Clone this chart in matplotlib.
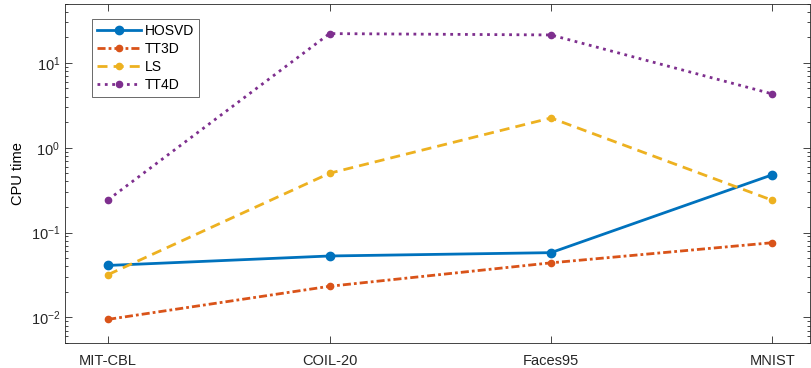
import numpy as np
import matplotlib.pyplot as plt
from matplotlib.ticker import LogLocator, NullFormatter

plt.rcParams["font.family"] = ["Liberation Sans", "DejaVu Sans"]
plt.rcParams["mathtext.fontset"] = "custom"
plt.rcParams["mathtext.rm"] = "Liberation Sans"

datasets = ["MIT-CBL", "COIL-20", "Faces95", "MNIST"]
hosvd = [0.041, 0.053, 0.058, 0.48]
tt3d = [0.0095, 0.0233, 0.044, 0.076]
ls = [0.032, 0.50, 2.24, 0.24]
tt4d = [0.244, 22.1, 21.3, 4.3]

x = np.arange(1, len(datasets) + 1)

fig = plt.figure(figsize=(8.11, 3.68), dpi=100)
ax = fig.add_axes([65 / 811, 1 - 343 / 368, 745 / 811, 339.5 / 368])

ax.plot(x, hosvd, "-", color="#0072BD", lw=2.0, marker="o", ms=6, label="HOSVD")
ax.plot(x, tt3d, color="#D95319", lw=2.0, marker="o", ms=4.5, label="TT3D",
        linestyle=(0, (2.9, 1.1, 1.0, 1.1)))
ax.plot(x, ls, color="#EDB120", lw=2.0, marker="o", ms=4.5, label="LS",
        linestyle=(0, (3.6, 2.2)))
ax.plot(x, tt4d, ":", color="#7E2F8E", lw=2.0, marker="o", ms=4.5, label="TT4D")

ax.set_yscale("log")
ax.set_ylim(0.005, 50)
ax.set_xlim(0.805, 4.17)
ax.set_xticks(x)
ax.set_xticklabels(datasets)
ax.yaxis.set_major_locator(LogLocator(base=10, numticks=10))
ax.yaxis.set_minor_locator(LogLocator(base=10, subs=np.arange(2, 10), numticks=20))
ax.yaxis.set_minor_formatter(NullFormatter())
ax.set_ylabel("CPU time", fontsize=10.5)

ax.tick_params(which="both", direction="in", top=True, right=True,
               labelsize=10.5, color="#262626", labelcolor="#262626")
ax.tick_params(which="major", length=5, width=0.6)
ax.tick_params(which="minor", length=2.5, width=0.6)
ax.tick_params(axis="x", pad=8)
for s in ax.spines.values():
    s.set_color("#262626")
    s.set_linewidth(0.6)

leg = ax.legend(loc="upper left", bbox_to_anchor=(0.036, 0.955), fontsize=10,
                frameon=True, fancybox=False, handlelength=3.2,
                borderpad=0.35, labelspacing=0.3, handletextpad=0.25,
                borderaxespad=0.0)
leg.get_frame().set_edgecolor("#262626")
leg.get_frame().set_linewidth(0.6)

fig.savefig("out.png", dpi=100)
